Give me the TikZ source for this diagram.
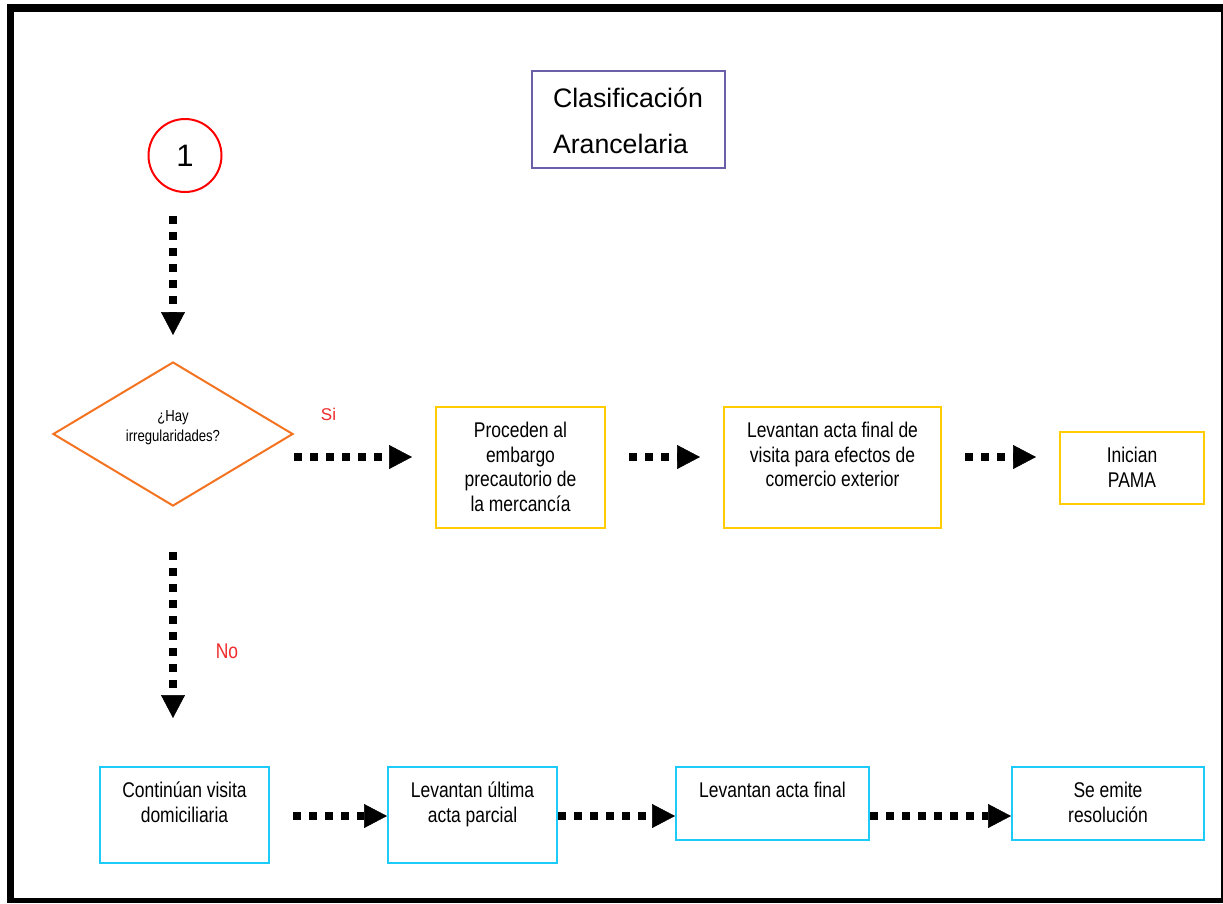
\documentclass[tikz,border=0pt]{standalone}
\usepackage{fontspec}
\setmainfont{Liberation Sans}
\newfontfamily\nar[FakeStretch=0.82]{Liberation Sans}
\usetikzlibrary{arrows.meta,shapes.geometric}
\definecolor{orng}{HTML}{F47321}
\definecolor{ylw}{HTML}{FFCC00}
\definecolor{cyn}{HTML}{1CCBF7}
\definecolor{prp}{HTML}{6A5FA8}
\definecolor{rd}{HTML}{FF0000}
\definecolor{lblred}{HTML}{EE2A2A}
\newcommand\boxtxt[3]{\parbox[c][#2][t]{#1}{\centering\rule{0pt}{30.5pt}#3}}
\tikzset{
  box/.style={draw,line width=2pt,inner sep=0pt,font=\nar\fontsize{21.3}{24.7}\selectfont},
  ybox/.style={box,draw=ylw},
  cbox/.style={box,draw=cyn},
  flow/.style={line width=8pt,dash pattern=on 8pt off 8pt,line cap=butt,
    -{Triangle[length=23pt 0 1,width=24pt 0 1,line width=0.5pt]}},
  lbl/.style={text=lblred,inner sep=0pt}
}
\begin{document}
\begin{tikzpicture}[x=1pt,y=-1pt]
\useasboundingbox (0,0) rectangle (1223,903);
% frame
\fill (7,4) rectangle (14,903);
\fill (7,4) rectangle (1223,12);
\fill (7,898) rectangle (1223,903);
\fill (1221,4) rectangle (1223,903);
% title
\node[draw=prp,line width=1.5pt,inner sep=0pt] (title) at (628.5,119.5)
  {\parbox[c][97pt][t]{193pt}{\fontsize{26.7}{46}\selectfont\raggedright\leftskip=21pt\rule{0pt}{36pt}Clasificación\\Arancelaria}};
% start circle
\node[circle,draw=rd,line width=2pt,minimum size=73pt,inner sep=0pt,font=\fontsize{31}{31}\selectfont] (start) at (185,155.5) {1};
% decision
\node[diamond,draw=orng,line width=2pt,minimum width=240pt,minimum height=144pt,inner sep=0pt] (dia) at (173,434) {};
\node[font=\nar\fontsize{16}{20}\selectfont,align=center,inner sep=0pt] (q) at (173,428) {¿Hay\\irregularidades?};
\node[lbl,font=\fontsize{17}{17}\selectfont] (si) at (328.5,414.5) {Si};
\node[lbl,font=\nar\fontsize{21.3}{24}\selectfont] (no) at (227,651) {No};
% top row
\node[ybox] (proc) at (520.5,467.5) {\boxtxt{169pt}{121pt}{Proceden al\\embargo\\precautorio de\\la mercancía}};
\node[ybox] (lev) at (832.5,467.5) {\boxtxt{217pt}{121pt}{Levantan acta final de\\visita para efectos de\\comercio exterior}};
\node[ybox] (pama) at (1132,468) {\boxtxt{144pt}{72pt}{Inician\\PAMA}};
% bottom row
\node[cbox] (cont) at (184.5,815) {\boxtxt{169pt}{96pt}{Continúan visita\\domiciliaria}};
\node[cbox] (ult) at (472.5,815) {\boxtxt{169pt}{96pt}{Levantan última\\acta parcial}};
\node[cbox] (fin) at (772.5,803.5) {\boxtxt{193pt}{73pt}{Levantan acta final}};
\node[cbox] (res) at (1108,803.5) {\boxtxt{192pt}{73pt}{Se emite\\resolución}};
% connectors
\coordinate (ysi) at (0,457);
\coordinate (ybot) at (0,816);
\draw[flow,shorten <=23pt,shorten >=26pt] (dia.north |- start.south) -- (dia.north);
\draw[flow,shorten >=23pt] (dia.east |- ysi) -- (proc.west |- ysi);
\draw[flow,shorten <=23pt,shorten >=23pt] (proc.east |- ysi) -- (lev.west |- ysi);
\draw[flow,shorten <=23pt,shorten >=23pt] (lev.east |- ysi) -- (pama.west |- ysi);
\draw[flow,shorten <=45pt,shorten >=48pt] (dia.south) -- (dia.south |- cont.north);
\draw[flow,shorten <=23pt] (cont.east |- ybot) -- (ult.west |- ybot);
\draw[flow] (ult.east |- ybot) -- (fin.west |- ybot);
\draw[flow] (fin.east |- ybot) -- (res.west |- ybot);
\end{tikzpicture}
\end{document}
